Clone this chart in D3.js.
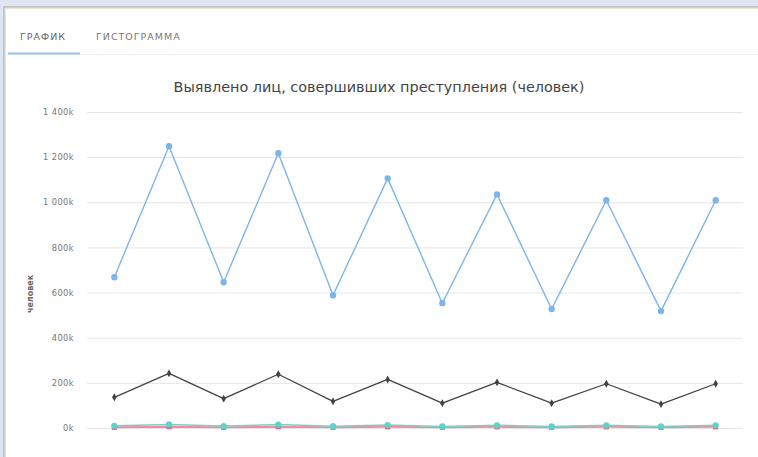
<!DOCTYPE html>
<html>
<head>
<meta charset="utf-8">
<script src="https://cdnjs.cloudflare.com/ajax/libs/d3/7.8.5/d3.min.js"></script>
<style>
  html, body { margin: 0; padding: 0; background: #dde6f1; }
  svg { display: block; }
</style>
</head>
<body>
<svg id="chart" width="758" height="457"></svg>
<script>
// periods (labels not shown on the axis in the original)
var categories = ['1','2','3','4','5','6','7','8','9','10','11','12'];
// values in thousands of persons
var seriesBlue  = [668, 1248, 646, 1217, 588, 1106, 553, 1035, 527, 1009, 518, 1009];
var seriesBlack = [136, 242, 130, 238, 118, 215, 110, 202, 110, 196, 106, 196];
var seriesRed   = [3, 6, 3, 6, 3, 5, 3, 5, 3, 5, 3, 5];
var seriesTeal  = [10, 16, 9, 15, 8, 13, 7, 12, 7, 12, 7, 12];
var yTicks = [0, 200, 400, 600, 800, 1000, 1200, 1400];
var tabs = ['ГРАФИК', 'ГИСТОГРАММА'];
var title = 'Выявлено лиц, совершивших преступления (человек)';

var svg = d3.select('#chart');
var font = '"DejaVu Sans", Verdana, sans-serif';

// panel
svg.append('rect').attr('x', 0).attr('y', 0).attr('width', 758).attr('height', 457).attr('fill', '#dde6f1');
svg.append('rect').attr('x', 4).attr('y', 7).attr('width', 760).attr('height', 460)
  .attr('fill', '#fff').attr('stroke', '#a9adb3').attr('stroke-width', 1.2);
svg.append('line').attr('x1', 5.5).attr('x2', 758).attr('y1', 8.5).attr('y2', 8.5).attr('stroke', '#ece6cf');
svg.append('line').attr('x1', 5.5).attr('x2', 5.5).attr('y1', 8.5).attr('y2', 457).attr('stroke', '#ece6cf');

// tabs
svg.append('line').attr('x1', 6).attr('x2', 758).attr('y1', 54.5).attr('y2', 54.5).attr('stroke', '#f0f0f0');
svg.append('line').attr('x1', 8).attr('x2', 80).attr('y1', 53.5).attr('y2', 53.5).attr('stroke', '#9cc3ea').attr('stroke-width', 2);
svg.selectAll('text.tab').data(tabs).enter().append('text')
  .attr('class', 'tab')
  .attr('x', (d, i) => i === 0 ? 20 : 96)
  .attr('y', 40)
  .attr('font-family', font).attr('font-size', 9.5).attr('letter-spacing', 1)
  .attr('fill', (d, i) => i === 0 ? '#666' : '#777')
  .text(d => d);

// title
svg.append('text').attr('x', 379).attr('y', 92).attr('text-anchor', 'middle')
  .attr('font-family', font).attr('font-size', 14.4).attr('fill', '#444')
  .text(title);

var plotLeft = 87, plotRight = 743, plotTop = 112, plotBottom = 428;
var x = d3.scaleBand().domain(categories).range([plotLeft, plotRight]);
var y = d3.scaleLinear().domain([0, 1400]).range([plotBottom, plotTop]);
var cx = d => x(d) + x.bandwidth() / 2;

// grid + axis
var yAxis = d3.axisLeft(y).tickValues(yTicks).tickSize(-(plotRight - plotLeft)).tickPadding(13)
  .tickFormat(d => d3.format(',')(d).replace(/,/g, ' ') + 'k');
var g = svg.append('g').attr('transform', 'translate(' + plotLeft + ',0)').call(yAxis);
g.select('.domain').remove();
g.selectAll('.tick line').attr('stroke', '#e6e6e6');
g.selectAll('.tick text').attr('font-family', font).attr('font-size', 8.3)
  .attr('letter-spacing', 0.4).attr('fill', '#777');

svg.append('text').attr('transform', 'translate(33,294) rotate(-90)').attr('text-anchor', 'middle')
  .attr('font-family', font).attr('font-size', 8).attr('font-weight', 'bold').attr('fill', '#666')
  .text('человек');

var line = d3.line().x((d, i) => cx(categories[i])).y(d => y(d));

function drawSeries(data, color, width, marker, msize, mcolor) {
  svg.append('path').datum(data).attr('d', line).attr('fill', 'none')
    .attr('stroke', color).attr('stroke-width', width).attr('stroke-linejoin', 'round');
  var sym = d3.symbol().type(marker).size(msize);
  svg.selectAll(null).data(data).enter().append('path')
    .attr('d', sym)
    .attr('transform', (d, i) => 'translate(' + cx(categories[i]) + ',' + y(d) + ')')
    .attr('fill', mcolor || color);
}

drawSeries(seriesBlack, '#434348', 1.3, d3.symbolDiamond, 18);
drawSeries(seriesRed, '#f28ca0', 2, d3.symbolSquare, 26, '#e0667a');
drawSeries(seriesTeal, '#7fcfc6', 1.5, d3.symbolCircle, 30, '#5cd3cc');
drawSeries(seriesBlue, '#7cb5ec', 1.4, d3.symbolCircle, 32);
</script>
</body>
</html>
